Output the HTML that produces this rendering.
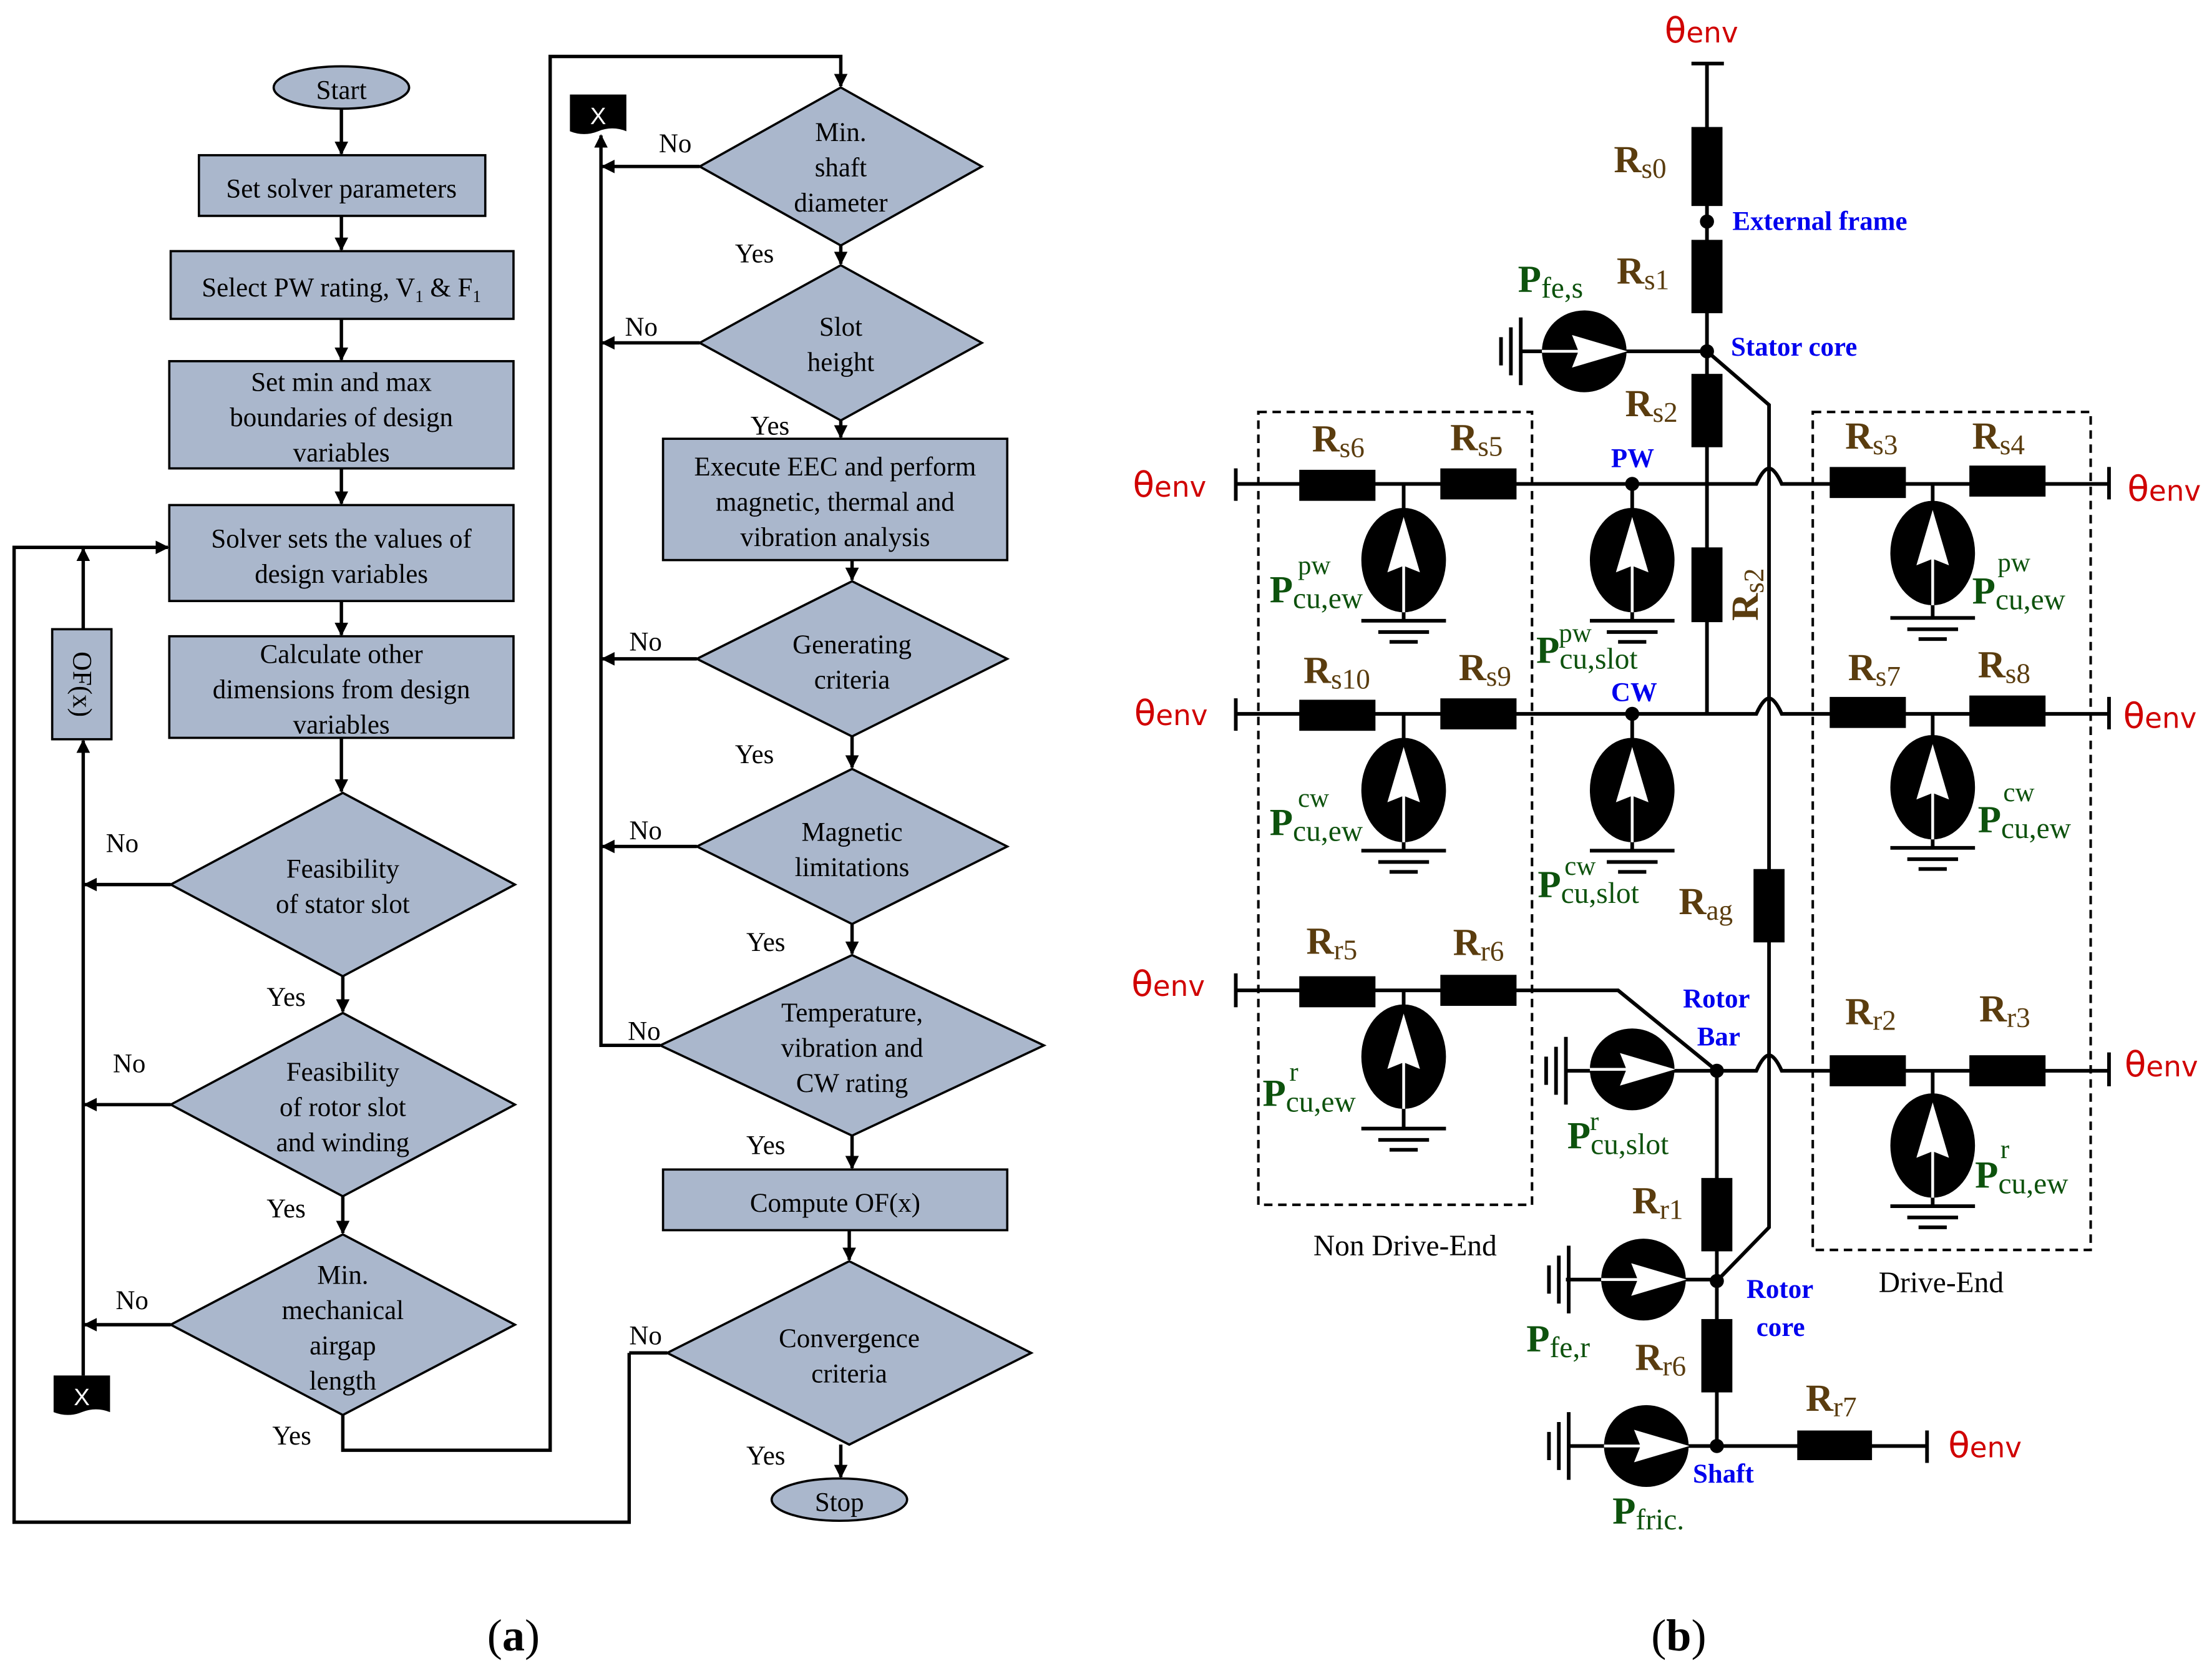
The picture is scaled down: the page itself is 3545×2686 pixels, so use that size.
<!DOCTYPE html>
<html><head><meta charset="utf-8">
<style>
html,body{margin:0;padding:0;background:#fff;}
svg{display:block;}
.t{font-family:"Liberation Serif",serif;font-size:19px;fill:#000;text-anchor:middle;}
.l{font-family:"Liberation Serif",serif;font-size:19px;fill:#000;}
.R{font-family:"Liberation Serif",serif;font-size:27px;font-weight:bold;fill:#5a3c0e;}
.Rs{font-weight:normal;font-size:20px;}
.th{font-family:"DejaVu Sans","Liberation Sans",sans-serif;font-size:25px;fill:#d00000;}
.B{font-family:"Liberation Serif",serif;font-size:19px;font-weight:bold;fill:#0000ee;}
.G{font-family:"Liberation Serif",serif;font-size:27px;font-weight:bold;fill:#0d520d;}
.Gs{font-weight:normal;font-size:21px;}
.Gu{font-family:"Liberation Serif",serif;font-size:19px;fill:#0d520d;}
</style></head><body>
<svg width="3545" height="2686" viewBox="0 0 1568 1188" xmlns="http://www.w3.org/2000/svg">
<defs>
<marker id="a" viewBox="0 0 10 10" refX="9" refY="5" markerWidth="4" markerHeight="4" orient="auto"><path d="M0,0 L10,5 L0,10 z" fill="#000"/></marker>
</defs>
<g stroke="#000" stroke-width="1.6" fill="#aab7cc">
<ellipse cx="242" cy="62" rx="48" ry="15"/>
<rect x="141" y="110" width="203" height="43"/>
<rect x="121" y="178" width="243" height="48"/>
<rect x="120" y="256" width="244" height="76"/>
<rect x="120" y="358" width="244" height="68"/>
<rect x="120" y="451" width="244" height="72"/>
<rect x="37" y="446" width="42" height="78"/>
<polygon points="121,627 243,562 365,627 243,692"/>
<polygon points="121,783 243,718 365,783 243,848"/>
<polygon points="121,939 243,875 365,939 243,1003"/>
<polygon points="496,118 596,62 696,118 596,174"/>
<polygon points="496,243 596,188 696,243 596,298"/>
<rect x="470" y="311" width="244" height="86"/>
<polygon points="494,467 604,412 714,467 604,522"/>
<polygon points="494,600 604,545 714,600 604,655"/>
<polygon points="468,741 604,677 740,741 604,805"/>
<rect x="470" y="829" width="244" height="43"/>
<polygon points="473,959 602,894 731,959 602,1024"/>
<ellipse cx="595" cy="1063" rx="48" ry="15"/>
</g>
<!-- X markers -->
<path d="M38,975 H78 V1001 Q68,997 58,1001 Q48,1005 38,1001 Z" fill="#000"/>
<text x="58" y="996" font-family="Liberation Sans" font-size="17" fill="#fff" text-anchor="middle">X</text>
<path d="M404,67 H444 V93 Q434,89 424,93 Q414,97 404,93 Z" fill="#000"/>
<text x="424" y="88" font-family="Liberation Sans" font-size="17" fill="#fff" text-anchor="middle">X</text>
<g stroke="#000" stroke-width="2.4" fill="none">
<line x1="242" y1="77" x2="242" y2="109" marker-end="url(#a)"/>
<line x1="242" y1="153" x2="242" y2="177" marker-end="url(#a)"/>
<line x1="242" y1="226" x2="242" y2="255" marker-end="url(#a)"/>
<line x1="242" y1="332" x2="242" y2="357" marker-end="url(#a)"/>
<line x1="242" y1="426" x2="242" y2="450" marker-end="url(#a)"/>
<line x1="242" y1="523" x2="242" y2="561" marker-end="url(#a)"/>
<line x1="243" y1="692" x2="243" y2="717" marker-end="url(#a)"/>
<line x1="243" y1="848" x2="243" y2="874" marker-end="url(#a)"/>
<line x1="121" y1="627" x2="60" y2="627" marker-end="url(#a)"/>
<line x1="121" y1="783" x2="60" y2="783" marker-end="url(#a)"/>
<line x1="121" y1="939" x2="60" y2="939" marker-end="url(#a)"/>
<line x1="59" y1="975" x2="59" y2="525" marker-end="url(#a)"/>
<line x1="59" y1="446" x2="59" y2="389" marker-end="url(#a)"/>
<polyline points="446,959 446,1079 10,1079 10,388 119,388" marker-end="url(#a)"/>
<line x1="446" y1="959" x2="473" y2="959"/>
<polyline points="243,1003 243,1028 390,1028 390,40 596,40 596,61" marker-end="url(#a)"/>
<line x1="596" y1="174" x2="596" y2="187" marker-end="url(#a)"/>
<line x1="596" y1="298" x2="596" y2="310" marker-end="url(#a)"/>
<line x1="604" y1="397" x2="604" y2="411" marker-end="url(#a)"/>
<line x1="604" y1="522" x2="604" y2="544" marker-end="url(#a)"/>
<line x1="604" y1="655" x2="604" y2="676" marker-end="url(#a)"/>
<line x1="604" y1="805" x2="604" y2="828" marker-end="url(#a)"/>
<line x1="602" y1="872" x2="602" y2="893" marker-end="url(#a)"/>
<line x1="596" y1="1024" x2="596" y2="1047" marker-end="url(#a)"/>
<line x1="496" y1="118" x2="427" y2="118" marker-end="url(#a)"/>
<line x1="496" y1="243" x2="427" y2="243" marker-end="url(#a)"/>
<line x1="494" y1="467" x2="427" y2="467" marker-end="url(#a)"/>
<line x1="494" y1="600" x2="427" y2="600" marker-end="url(#a)"/>
<polyline points="468,741 426,741 426,96" marker-end="url(#a)"/>
</g>
<g class="t">
<text x="242" y="70">Start</text>
<text x="242" y="140">Set solver parameters</text>
<text x="242" y="210">Select PW rating, V<tspan font-size="12" dy="4">1</tspan><tspan dy="-4"> &amp; F</tspan><tspan font-size="12" dy="4">1</tspan></text>
<text x="242" y="277">Set min and max</text>
<text x="242" y="302">boundaries of design</text>
<text x="242" y="327">variables</text>
<text x="242" y="388">Solver sets the values of</text>
<text x="242" y="413">design variables</text>
<text x="242" y="470">Calculate other</text>
<text x="242" y="495">dimensions from design</text>
<text x="242" y="520">variables</text>
<text x="0" y="0" transform="translate(52,485) rotate(90)">OF(x)</text>
<text x="243" y="622">Feasibility</text>
<text x="243" y="647">of stator slot</text>
<text x="243" y="766">Feasibility</text>
<text x="243" y="791">of rotor slot</text>
<text x="243" y="816">and winding</text>
<text x="243" y="910">Min.</text>
<text x="243" y="935">mechanical</text>
<text x="243" y="960">airgap</text>
<text x="243" y="985">length</text>
<text x="596" y="100">Min.</text>
<text x="596" y="125">shaft</text>
<text x="596" y="150">diameter</text>
<text x="596" y="238">Slot</text>
<text x="596" y="263">height</text>
<text x="592" y="337">Execute EEC and perform</text>
<text x="592" y="362">magnetic, thermal and</text>
<text x="592" y="387">vibration analysis</text>
<text x="604" y="463">Generating</text>
<text x="604" y="488">criteria</text>
<text x="604" y="596">Magnetic</text>
<text x="604" y="621">limitations</text>
<text x="604" y="724">Temperature,</text>
<text x="604" y="749">vibration and</text>
<text x="604" y="774">CW rating</text>
<text x="592" y="859">Compute OF(x)</text>
<text x="602" y="955">Convergence</text>
<text x="602" y="980">criteria</text>
<text x="595" y="1071">Stop</text>
</g>
<g class="l">
<text x="75" y="604">No</text><text x="189" y="713">Yes</text>
<text x="80" y="760">No</text><text x="189" y="863">Yes</text>
<text x="82" y="928">No</text><text x="193" y="1024">Yes</text>
<text x="467" y="108">No</text><text x="521" y="186">Yes</text>
<text x="443" y="238">No</text><text x="532" y="308">Yes</text>
<text x="446" y="461">No</text><text x="521" y="541">Yes</text>
<text x="446" y="595">No</text><text x="529" y="674">Yes</text>
<text x="445" y="737">No</text><text x="529" y="818">Yes</text>
<text x="446" y="953">No</text><text x="529" y="1038">Yes</text>
</g>
<text x="364" y="1170" font-family="Liberation Serif" font-size="32" text-anchor="middle">(<tspan font-weight="bold">a</tspan>)</text>
<text x="1190" y="1170" font-family="Liberation Serif" font-size="32" text-anchor="middle">(<tspan font-weight="bold">b</tspan>)</text>

<!-- ===== Circuit ===== -->
<g stroke="#000" stroke-width="1.8" fill="none" stroke-dasharray="6,4">
<rect x="892" y="292" width="194" height="562"/>
<rect x="1285" y="292" width="197" height="594"/>
</g>
<g stroke="#000" stroke-width="2.6" fill="none">
<line x1="1199" y1="45" x2="1222" y2="45"/>
<line x1="1210" y1="45" x2="1210" y2="506"/>
<polyline points="1210,249 1254,287 1254,870 1217,908"/>
<line x1="1123" y1="249" x2="1210" y2="249"/>
<line x1="1078" y1="249" x2="1095" y2="249"/>
<!-- PW line -->
<path d="M876,343 H1245 Q1250,332 1254,332 Q1258,332 1263,343 H1495"/>
<line x1="876" y1="332" x2="876" y2="355"/><line x1="1495" y1="331" x2="1495" y2="354"/>
<path d="M876,506 H1245 Q1250,495 1254,495 Q1258,495 1263,506 H1495"/>
<line x1="876" y1="495" x2="876" y2="518"/><line x1="1495" y1="494" x2="1495" y2="517"/>
<polyline points="876,702 1147,702 1217,759"/>
<line x1="876" y1="690" x2="876" y2="714"/>
<path d="M1110,759 H1245 Q1250,748 1254,748 Q1258,748 1263,759 H1495"/>
<line x1="1495" y1="746" x2="1495" y2="770"/>
<line x1="1217" y1="759" x2="1217" y2="1025"/>
<line x1="1110" y1="907" x2="1217" y2="907"/>
<line x1="1112" y1="1025" x2="1366" y2="1025"/>
<line x1="1366" y1="1014" x2="1366" y2="1037"/>
<!-- verticals to sources -->
<line x1="995" y1="343" x2="995" y2="440"/><line x1="1157" y1="343" x2="1157" y2="440"/><line x1="1370" y1="343" x2="1370" y2="438"/>
<line x1="995" y1="506" x2="995" y2="603"/><line x1="1157" y1="506" x2="1157" y2="603"/><line x1="1370" y1="506" x2="1370" y2="601"/>
<line x1="995" y1="702" x2="995" y2="800"/><line x1="1370" y1="759" x2="1370" y2="855"/>
</g>
<!-- grounds horizontal -->
<g stroke="#000" stroke-width="2.6">
<g id="gnd"></g>
<path d="M965,440H1025M977,448H1013M985,455H1005"/>
<path d="M1127,440H1187M1139,448H1175M1147,455H1167"/>
<path d="M1340,438H1400M1352,446H1388M1360,453H1380"/>
<path d="M965,603H1025M977,611H1013M985,618H1005"/>
<path d="M1127,603H1187M1139,611H1175M1147,618H1167"/>
<path d="M1340,601H1400M1352,609H1388M1360,616H1380"/>
<path d="M965,800H1025M977,808H1013M985,815H1005"/>
<path d="M1340,855H1400M1352,863H1388M1360,870H1380"/>
<!-- vertical grounds -->
<path d="M1078,225V273M1071,232V266M1064,239V259"/>
<path d="M1110,735V783M1103,742V776M1096,749V769"/>
<path d="M1112,883V931M1105,890V924M1098,897V917"/>
<path d="M1112,1001V1049M1105,1008V1042M1098,1015V1035"/>
</g>
<!-- resistors -->
<g fill="#000">
<rect x="1199" y="90" width="22" height="56"/>
<rect x="1199" y="170" width="22" height="52"/>
<rect x="1199" y="265" width="22" height="52"/>
<rect x="1199" y="388" width="22" height="53"/>
<rect x="1243" y="616" width="22" height="52"/>
<rect x="921" y="333" width="54" height="22"/><rect x="1021" y="332" width="54" height="22"/>
<rect x="1297" y="331" width="54" height="22"/><rect x="1396" y="330" width="54" height="22"/>
<rect x="921" y="496" width="54" height="22"/><rect x="1021" y="495" width="54" height="22"/>
<rect x="1297" y="494" width="54" height="22"/><rect x="1396" y="493" width="54" height="22"/>
<rect x="921" y="692" width="54" height="22"/><rect x="1021" y="691" width="54" height="22"/>
<rect x="1297" y="748" width="54" height="22"/><rect x="1396" y="748" width="54" height="22"/>
<rect x="1206" y="835" width="22" height="52"/>
<rect x="1206" y="935" width="22" height="52"/>
<rect x="1274" y="1014" width="53" height="21"/>
<!-- nodes -->
<circle cx="1210" cy="157" r="5"/><circle cx="1210" cy="249" r="5"/>
<circle cx="1157" cy="343" r="5"/><circle cx="1157" cy="506" r="5"/>
<circle cx="1217" cy="759" r="5"/><circle cx="1217" cy="908" r="5"/><circle cx="1217" cy="1025" r="5"/>
<!-- sources up -->
<ellipse cx="995" cy="397" rx="30" ry="37"/><ellipse cx="1157" cy="397" rx="30" ry="37"/><ellipse cx="1370" cy="392" rx="30" ry="37"/>
<ellipse cx="995" cy="560" rx="30" ry="37"/><ellipse cx="1157" cy="560" rx="30" ry="37"/><ellipse cx="1370" cy="558" rx="30" ry="37"/>
<ellipse cx="995" cy="749" rx="30" ry="37"/><ellipse cx="1370" cy="812" rx="30" ry="37"/>
<!-- sources right -->
<ellipse cx="1123" cy="249" rx="30" ry="29"/><ellipse cx="1157" cy="758" rx="30" ry="29"/>
<ellipse cx="1165" cy="907" rx="30" ry="29"/><ellipse cx="1167" cy="1025" rx="30" ry="29"/>
</g>
<!-- white arrows -->
<g fill="#fff" stroke="#fff" stroke-width="2">
<path d="M995,370 L1005,404 L995,400 L985,404 Z M995,400V434" />
<path d="M1157,370 L1167,404 L1157,400 L1147,404 Z M1157,400V434" />
<path d="M1370,365 L1380,399 L1370,395 L1360,399 Z M1370,395V429" />
<path d="M995,533 L1005,567 L995,563 L985,567 Z M995,563V597" />
<path d="M1157,533 L1167,567 L1157,563 L1147,567 Z M1157,563V597" />
<path d="M1370,531 L1380,565 L1370,561 L1360,565 Z M1370,561V595" />
<path d="M995,722 L1005,756 L995,752 L985,756 Z M995,752V786" />
<path d="M1370,785 L1380,819 L1370,815 L1360,819 Z M1370,815V849" />
<path d="M1150,249 L1116,239 L1120,249 L1116,259 Z M1120,249H1093" />
<path d="M1184,758 L1150,748 L1154,758 L1150,768 Z M1154,758H1127" />
<path d="M1192,907 L1158,897 L1162,907 L1158,917 Z M1162,907H1135" />
<path d="M1194,1025 L1160,1015 L1164,1025 L1160,1035 Z M1164,1025H1137" />
</g>
<!-- labels -->
<g class="th">
<text x="1180" y="30">θ<tspan font-size="20">env</tspan></text>
<text x="803" y="352">θ<tspan font-size="20">env</tspan></text>
<text x="1508" y="355">θ<tspan font-size="20">env</tspan></text>
<text x="804" y="514">θ<tspan font-size="20">env</tspan></text>
<text x="1505" y="516">θ<tspan font-size="20">env</tspan></text>
<text x="802" y="706">θ<tspan font-size="20">env</tspan></text>
<text x="1506" y="763">θ<tspan font-size="20">env</tspan></text>
<text x="1381" y="1033">θ<tspan font-size="20">env</tspan></text>
</g>
<g class="R">
<text x="1144" y="122">R<tspan class="Rs" dy="4">s0</tspan></text>
<text x="1146" y="201">R<tspan class="Rs" dy="4">s1</tspan></text>
<text x="1152" y="295">R<tspan class="Rs" dy="4">s2</tspan></text>
<text x="0" y="0" transform="translate(1246,440) rotate(-90)">R<tspan class="Rs" dy="4">s2</tspan></text>
<text x="930" y="320">R<tspan class="Rs" dy="4">s6</tspan></text>
<text x="1028" y="319">R<tspan class="Rs" dy="4">s5</tspan></text>
<text x="1308" y="318">R<tspan class="Rs" dy="4">s3</tspan></text>
<text x="1398" y="318">R<tspan class="Rs" dy="4">s4</tspan></text>
<text x="924" y="484">R<tspan class="Rs" dy="4">s10</tspan></text>
<text x="1034" y="482">R<tspan class="Rs" dy="4">s9</tspan></text>
<text x="1310" y="482">R<tspan class="Rs" dy="4">s7</tspan></text>
<text x="1402" y="480">R<tspan class="Rs" dy="4">s8</tspan></text>
<text x="1190" y="648">R<tspan class="Rs" dy="4">ag</tspan></text>
<text x="926" y="676">R<tspan class="Rs" dy="4">r5</tspan></text>
<text x="1030" y="677">R<tspan class="Rs" dy="4">r6</tspan></text>
<text x="1308" y="726">R<tspan class="Rs" dy="4">r2</tspan></text>
<text x="1403" y="724">R<tspan class="Rs" dy="4">r3</tspan></text>
<text x="1157" y="860">R<tspan class="Rs" dy="4">r1</tspan></text>
<text x="1159" y="971">R<tspan class="Rs" dy="4">r6</tspan></text>
<text x="1280" y="1000">R<tspan class="Rs" dy="4">r7</tspan></text>
</g>
<g class="B">
<text x="1228" y="163">External frame</text>
<text x="1227" y="252">Stator core</text>
<text x="1142" y="331">PW</text>
<text x="1142" y="497">CW</text>
<text x="1193" y="714">Rotor</text>
<text x="1203" y="741">Bar</text>
<text x="1238" y="920">Rotor</text>
<text x="1245" y="947">core</text>
<text x="1200" y="1051">Shaft</text>
</g>
<g class="G">
<text x="1076" y="207">P<tspan class="Gs" dy="4">fe,s</tspan></text>
<text x="1082" y="958">P<tspan class="Gs" dy="4">fe,r</tspan></text>
<text x="1143" y="1080">P<tspan class="Gs" dy="4">fric.</tspan></text>
<text x="900" y="427">P<tspan class="Gs" dy="4">cu,ew</tspan></text>
<text x="1398" y="428">P<tspan class="Gs" dy="4">cu,ew</tspan></text>
<text x="900" y="592">P<tspan class="Gs" dy="4">cu,ew</tspan></text>
<text x="1402" y="590">P<tspan class="Gs" dy="4">cu,ew</tspan></text>
<text x="895" y="784">P<tspan class="Gs" dy="4">cu,ew</tspan></text>
<text x="1400" y="842">P<tspan class="Gs" dy="4">cu,ew</tspan></text>
<text x="1089" y="470">P<tspan class="Gs" dy="4">cu,slot</tspan></text>
<text x="1090" y="636">P<tspan class="Gs" dy="4">cu,slot</tspan></text>
<text x="1111" y="814">P<tspan class="Gs" dy="4">cu,slot</tspan></text>
</g>
<g class="Gu">
<text x="920" y="407">pw</text><text x="1416" y="405">pw</text>
<text x="920" y="572">cw</text><text x="1420" y="568">cw</text>
<text x="914" y="766">r</text><text x="1418" y="821">r</text>
<text x="1105" y="455">pw</text><text x="1109" y="620">cw</text><text x="1127" y="801">r</text>
</g>
<text x="996" y="890" font-family="Liberation Serif" font-size="21" text-anchor="middle">Non Drive-End</text>
<text x="1376" y="916" font-family="Liberation Serif" font-size="21" text-anchor="middle">Drive-End</text>
</svg>
</body></html>
